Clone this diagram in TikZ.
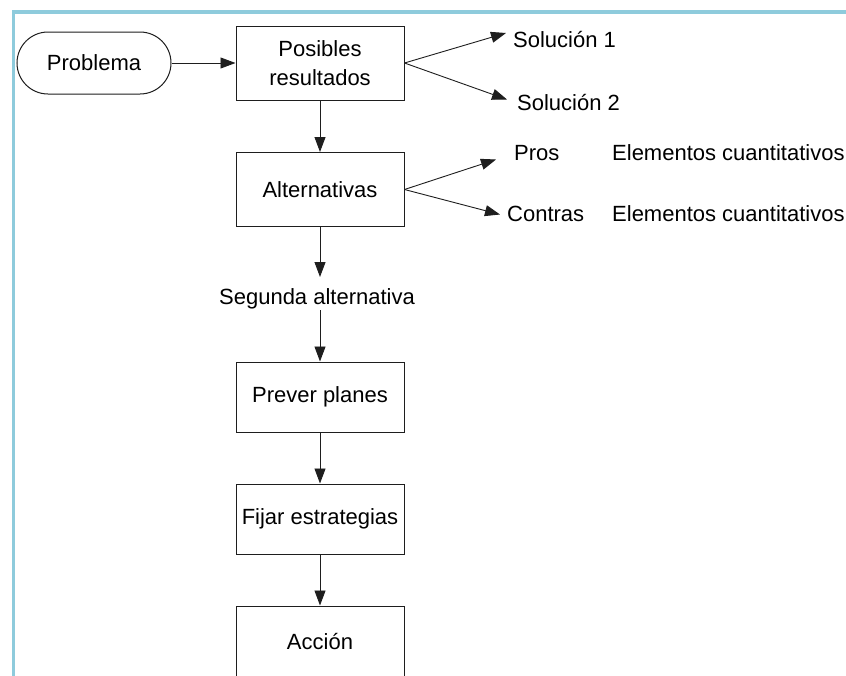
\documentclass[tikz,border=0pt]{standalone}
\usepackage{fontspec}
\setmainfont{Liberation Sans}
\usetikzlibrary{arrows.meta,shapes.misc}
\definecolor{framecol}{RGB}{142,203,220}
\definecolor{inkcol}{RGB}{30,30,30}
\tikzset{
  txt/.style={font=\fontsize{22}{29}\selectfont, text=black, inner sep=0pt},
  box/.style={txt, draw=inkcol, line width=1pt, rectangle, minimum width=168pt, align=center},
  term/.style={txt, draw=inkcol, line width=1pt, rounded rectangle, minimum width=154pt, minimum height=62pt},
  arr/.style={draw=inkcol, line width=0.9pt, -{Triangle[length=15pt,width=11pt]}},
  frame/.style={draw=framecol, line width=3.5pt}
}
\begin{document}
\begin{tikzpicture}[x=1pt,y=-1pt]
\useasboundingbox (0,0) rectangle (846,675);
\clip (0,0) rectangle (846,675);
\fill[white] (0,0) rectangle (846,675);
% light blue frame edges
\draw[frame] (13.5,690) -- (13.5,12) -- (860,12);

% flow nodes
\node[term] (prob) at (94,63) {Problema};
\node[box, minimum height=74pt] (pos) at (320,63) {Posibles\\resultados};
\node[box, minimum height=74pt] (alt) at (320,189.5) {Alternativas};
\node[txt, anchor=base] (seg) at (317,304.3) {Segunda alternativa};
\node[box, minimum height=70pt] (prev) at (320,397) {Prever planes};
\node[box, minimum height=70pt] (fij) at (320,519) {Fijar estrategias};
\node[box, minimum height=70pt] (acc) at (320,641) {Acción};

% outcome labels
\node[txt, anchor=base west] (sol1) at (513,47.3) {Solución 1};
\node[txt, anchor=base west] (sol2) at (517,110.7) {Solución 2};
\node[txt, anchor=base west] (pros) at (514,160.5) {Pros};
\node[txt, anchor=base west] (contras) at (507,221.5) {Contras};
\node[txt, anchor=base west] (elem1) at (612,160.5) {Elementos cuantitativos};
\node[txt, anchor=base west] (elem2) at (612,221.5) {Elementos cuantitativos};

% branch arrow tips
\coordinate (tsol1) at (506,33);
\coordinate (tsol2) at (507,99.5);
\coordinate (tpros) at (496,159.5);
\coordinate (tcontras) at (500,214.5);
\coordinate (segtop) at (320,277);
\coordinate (segbot) at (320,310);

% connectors
\draw[arr] (prob.east) -- (pos.west);
\draw[arr] (pos.east) -- (tsol1);
\draw[arr] (pos.east) -- (tsol2);
\draw[arr] (pos.south) -- (alt.north);
\draw[arr] (alt.east) -- (tpros);
\draw[arr] (alt.east) -- (tcontras);
\draw[arr] (alt.south) -- (segtop);
\draw[arr] (segbot) -- (prev.north);
\draw[arr] (prev.south) -- (fij.north);
\draw[arr] (fij.south) -- (acc.north);
\end{tikzpicture}
\end{document}
